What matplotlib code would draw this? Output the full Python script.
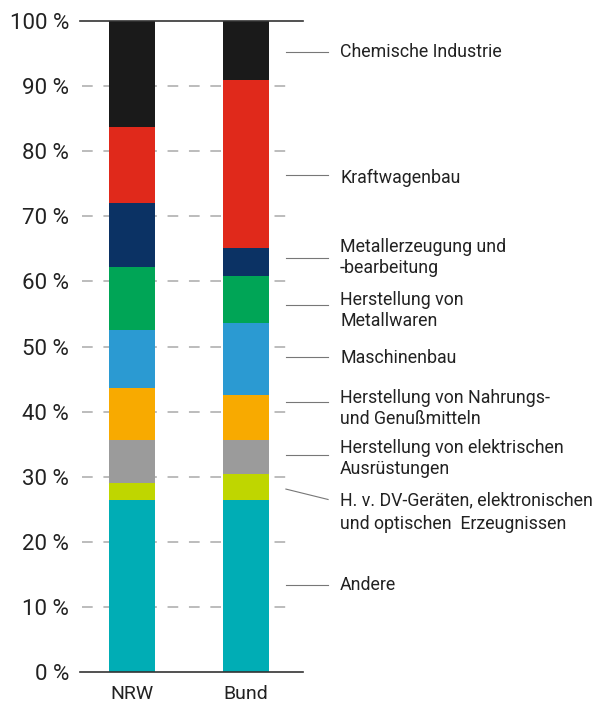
import numpy as np
import matplotlib
matplotlib.use("Agg")
import matplotlib.pyplot as plt

plt.rcParams['font.family'] = ['Roboto', 'DejaVu Sans']

# Anteile je Branche (in %), von unten nach oben gestapelt
regions = ["NRW", "Bund"]
industries = [
    "Andere",
    "H. v. DV-Geräten, elektronischen\nund optischen  Erzeugnissen",
    "Herstellung von elektrischen\nAusrüstungen",
    "Herstellung von Nahrungs-\nund Genußmitteln",
    "Maschinenbau",
    "Herstellung von\nMetallwaren",
    "Metallerzeugung und\n-bearbeitung",
    "Kraftwagenbau",
    "Chemische Industrie",
]
nrw_values = [26.4, 2.7, 6.6, 7.9, 9.0, 9.6, 9.9, 11.6, 16.3]
bund_values = [26.4, 4.0, 5.2, 7.0, 11.0, 7.2, 4.3, 25.8, 9.1]
colors = ["#00adb5", "#bfd600", "#9b9b9b", "#f8aa00", "#2b9ad2",
          "#00a556", "#0b3264", "#e0291b", "#1a1a1a"]
yticks = list(range(0, 101, 10))
ytick_labels = [f"{t} %" for t in yticks]

# Position der Beschriftungen rechts (Leitlinie y-Start, y-Ende, Text y) in %
label_line_y0 = [13.4, 28.1, 33.3, 41.4, 48.4, 56.4, 63.6, 76.3, 95.3]
label_line_y1 = [13.4, 26.5, 33.3, 41.4, 48.4, 56.4, 63.6, 76.3, 95.3]
label_text_y = [13.4, 24.6, 32.8, 40.5, 48.2, 55.5, 63.7, 75.9, 95.2]

fig = plt.figure(figsize=(6.06, 7.07), dpi=100)
ax = fig.add_axes([0.132, 0.0495, 0.368, 0.9208])

x = np.arange(len(regions))
data = np.array([nrw_values, bund_values])
bottom = np.zeros(len(regions))
for i in range(len(industries)):
    ax.bar(x, data[:, i], bottom=bottom, width=0.40, color=colors[i],
           zorder=3, linewidth=0)
    bottom += data[:, i]

ax.set_xlim(-0.456, 1.5)
ax.set_ylim(0, 100)

# gestrichelte Hilfslinien
for t in yticks[1:-1]:
    ax.axhline(t, xmin=0.01, xmax=0.955, color="#aaaaaa", lw=1.1,
               dashes=(7, 7), zorder=1)
ax.axhline(100, color="#333333", lw=1.2, zorder=4, clip_on=False)
ax.axhline(0, color="#333333", lw=1.2, zorder=4, clip_on=False)

for s in ax.spines.values():
    s.set_visible(False)
ax.set_yticks(yticks)
ax.set_yticklabels(ytick_labels, fontsize=16, color="#222222")
ax.set_xticks(x)
ax.set_xticklabels(regions, fontsize=14, color="#222222")
ax.tick_params(axis="y", length=0, pad=8)
ax.tick_params(axis="x", length=0, pad=9)

# Leitlinien und Beschriftungen
for i, name in enumerate(industries):
    ax.plot([1.35, 1.72], [label_line_y0[i], label_line_y1[i]],
            color="#777777", lw=0.8, clip_on=False, zorder=2)
    ls = 1.4 if i == 1 else 1.2
    ax.text(1.825, label_text_y[i], name, fontsize=12.8, color="#222222",
            va="center", ha="left", linespacing=ls, clip_on=False)

fig.savefig("out.png", dpi=100)
